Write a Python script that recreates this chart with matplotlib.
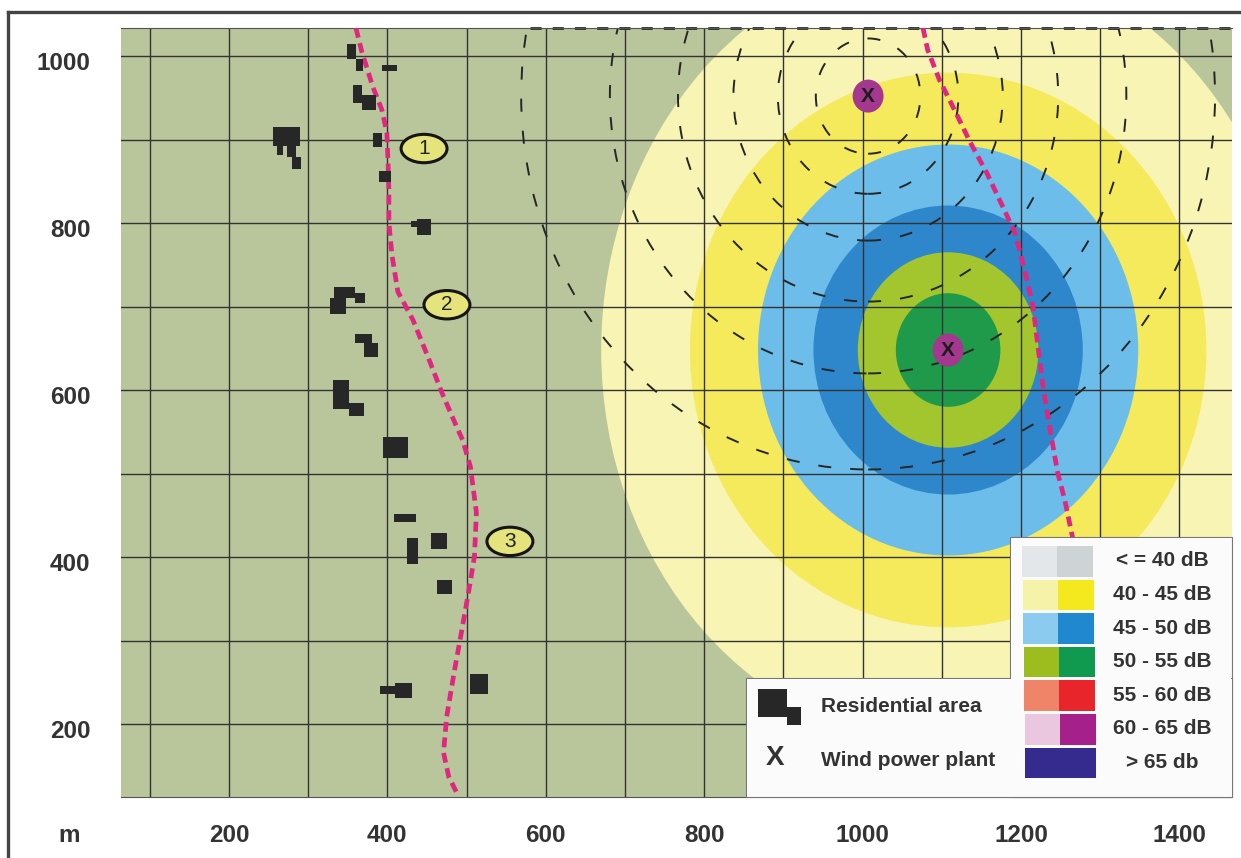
import matplotlib

matplotlib.use("Agg")
import matplotlib.pyplot as plt
from matplotlib.patches import Ellipse, Rectangle
from matplotlib.lines import Line2D
from matplotlib.transforms import ScaledTranslation

OUTPUT = "out.png"

XLIM = (63.8, 1466.4)
YLIM = (113.5, 1033.5)
GRID_X = list(range(100, 1500, 100))
GRID_Y = list(range(200, 1100, 100))
XTICKS = [200, 400, 600, 800, 1000, 1200, 1400]
YTICKS = [200, 400, 600, 800, 1000]

# noise zones around the big plant, outermost first
ZONE_CENTER = (1108, 648)
ZONE_RX = [438, 326, 240, 170, 114, 66]
ZONE_RY = [474, 332, 246, 173, 117, 68]
ZONE_COLORS = ["#f8f4b4", "#f5e95c", "#6cbde9", "#2f87cb", "#a3c62e", "#1e9a4a"]

# dashed contours around the other plant
CONTOUR_CENTER = (1007, 952)
CONTOUR_RX = [66, 114, 170, 240, 326, 438]
CONTOUR_RY = [69, 117, 173, 246, 332, 447]

PLANTS_X = [1108, 1007]
PLANTS_Y = [648, 952]

ROAD1_X = [360.4, 367.9, 381.8, 393.2, 399.5, 400.8, 402, 402, 405.8, 413.4, 432.3, 451.3,
           468.9, 489.1, 495, 504.9, 512.5, 510, 502.5, 492.6, 485, 475, 471, 477.5, 490]
ROAD1_Y = [1033.5, 1004.8, 962.9, 935.4, 907.9, 875.7, 839.8, 800.3, 762, 717.7, 684.2, 639.9,
           597, 552.7, 540.6, 508.3, 453.3, 400.6, 357.6, 304.9, 265.4, 209.2, 166.1, 137.4, 113.5]
ROAD2_X = [1076.3, 1082.2, 1097.1, 1117.9, 1135.6, 1156.8, 1174.7, 1192.4, 1204.5, 1215.2,
           1222.4, 1228.4, 1237.4, 1246.3, 1255.2, 1265.7]
ROAD2_Y = [1033.5, 1007.2, 971.3, 931.9, 897.2, 860.1, 824.2, 788.3, 744, 699.8,
           644.7, 600.4, 549, 501.2, 468.8, 421]

# houses: left, bottom, width, height in map metres
HOUSE_X = [348.6, 360.4, 392.8, 356.6, 367.6, 255.6, 260.6, 273.2, 279.5, 381.8, 389.4, 429.8, 437.4, 332.6,
           359.1, 327.5, 359.1, 370.5, 331.3, 351.5, 394.2, 408.3, 455, 424.7, 462.6, 504.9, 390.2, 410.1]
HOUSE_Y = [996.1, 982.1, 982.5, 943.8, 935.5, 892.4, 881.6, 879.2, 865, 891.1, 849.3, 795.5, 785.9, 710.5,
           704.5, 691.4, 656.7, 640, 577.7, 569.4, 519.1, 442.5, 410.2, 392.3, 356.4, 236.7, 236.7, 232]
HOUSE_W = [11.7, 8.8, 18.9, 11, 18, 34.1, 7.6, 11.4, 11.4, 11.4, 15.2, 7.6, 17.7, 26.5,
           12.6, 20.2, 21.5, 17.7, 20.2, 18.9, 31.8, 27.8, 20.2, 13.9, 18.9, 22.1, 19.9, 21]
HOUSE_H = [17.9, 14.4, 6.8, 21.5, 17.9, 22.7, 10.8, 13.2, 14.4, 16.8, 13.2, 7.2, 19.1, 13.2,
           12, 19.1, 10.8, 16.8, 34.7, 15.6, 25.1, 9.6, 19.1, 31.1, 16.8, 23.9, 9.6, 17.9]

SITE_LABELS = ["1", "2", "3"]
SITE_X = [446.4, 475.3, 554.8]
SITE_Y = [889.2, 702.2, 418.9]

LEGEND_LABELS = ["< = 40 dB", "40 - 45 dB", "45 - 50 dB", "50 - 55 dB", "55 - 60 dB", "60 - 65 dB", "> 65 db"]
LEGEND_LIGHT = ["#e4e7e9", "#f6f2a8", "#8ccbf0", "#9dbd1f", "#ef8468", "#eac7de", "#352a8e"]
LEGEND_DARK = ["#ced3d6", "#f4e81e", "#1f88cf", "#0f9a50", "#e8252b", "#a5208a", "#352a8e"]

TEXT = "#333333"
FONT = "Liberation Sans"


def draw_map(ax):
    ax.set_facecolor("#b9c59b")
    ax.set_xlim(*XLIM)
    ax.set_ylim(*YLIM)

    for rx, ry, color in zip(ZONE_RX, ZONE_RY, ZONE_COLORS):
        ax.add_patch(Ellipse(ZONE_CENTER, rx * 2, ry * 2, fc=color, ec="none", zorder=1))

    ax.set_xticks(GRID_X, minor=True)
    ax.set_yticks(GRID_Y, minor=True)
    ax.set_xticks(XTICKS)
    ax.set_yticks(YTICKS)
    ax.grid(True, which="both", color="#333333", linewidth=1.0, zorder=1.5)
    ax.tick_params(which="both", length=0)
    ax.tick_params(axis="x", pad=20)
    ax.tick_params(axis="y", pad=22)
    for label in ax.get_xticklabels() + ax.get_yticklabels():
        label.set(fontsize=17.5, fontweight="bold", family=FONT, color=TEXT)
    offset = ScaledTranslation(0, -5 / 100, ax.figure.dpi_scale_trans)
    for label in ax.get_yticklabels():
        label.set_transform(label.get_transform() + offset)

    for rx, ry in zip(CONTOUR_RX, CONTOUR_RY):
        ax.add_patch(Ellipse(CONTOUR_CENTER, rx * 2, ry * 2, fill=False, ec="#262626", lw=1.4,
                             ls=(0, (6.7, 9.8)), zorder=2))
    ax.plot([580, XLIM[1]], [YLIM[1], YLIM[1]], color="#262626", lw=2, ls=(0, (4, 4)), clip_on=False, zorder=2)

    for xs, ys in ((ROAD1_X, ROAD1_Y), (ROAD2_X, ROAD2_Y)):
        ax.plot(xs, ys, color="#e0277f", lw=3.4, ls=(0, (2.1, 1.2)), dash_capstyle="butt", zorder=3)

    for x, y, w, h in zip(HOUSE_X, HOUSE_Y, HOUSE_W, HOUSE_H):
        ax.add_patch(Rectangle((x, y), w, h, fc="#272727", ec="none", zorder=3))

    for x, y in zip(PLANTS_X, PLANTS_Y):
        ax.add_patch(Ellipse((x, y), 39, 39.5, fc="#a4388f", ec="none", zorder=3))
        ax.text(x, y, "X", ha="center", va="center", fontsize=15, fontweight="bold", family=FONT,
                color="#1c1c1c", zorder=4)

    for name, x, y in zip(SITE_LABELS, SITE_X, SITE_Y):
        ax.add_patch(Ellipse((x, y), 58, 34, fc="#e4e37c", ec="#151515", lw=2.2, zorder=3))
        ax.text(x, y, name, ha="center", va="center", fontsize=15, family=FONT, color="#222222", zorder=4)

    for side in ("left", "right"):
        ax.spines[side].set_visible(False)
    for side in ("top", "bottom"):
        ax.spines[side].set_color("#555555")
        ax.spines[side].set_linewidth(0.8)


def draw_legend(fig):
    # overlay in image pixels for the legend boxes and the frame
    over = fig.add_axes([0, 0, 1, 1], zorder=5)
    over.set_xlim(0, 1241)
    over.set_ylim(858, 0)
    over.axis("off")

    over.add_patch(Rectangle((1010, 537), 222, 260, fc="#fbfbfb", ec="#777777", lw=0.8))
    over.add_patch(Rectangle((746, 678), 486, 119, fc="#fbfbfb", ec="#777777", lw=0.8))
    over.add_patch(Rectangle((1011, 538), 220, 258, fc="#fbfbfb", ec="none"))
    over.add_patch(Rectangle((747, 679), 485, 117, fc="#fbfbfb", ec="none"))

    for i, (name, light, dark) in enumerate(zip(LEGEND_LABELS, LEGEND_LIGHT, LEGEND_DARK)):
        top = 546 + i * 33.6
        over.add_patch(Rectangle((1022 + i * 0.5, top), 35, 30.5, fc=light, ec="none"))
        over.add_patch(Rectangle((1057 + i * 0.5, top), 36, 30.5, fc=dark, ec="none"))
        over.text(1162, top + 15, name, ha="center", va="center", fontsize=15, fontweight="bold",
                  family=FONT, color=TEXT)

    over.add_patch(Rectangle((758, 689), 29, 28, fc="#272727", ec="none"))
    over.add_patch(Rectangle((787, 707), 14, 18, fc="#272727", ec="none"))
    over.text(775, 758, "X", ha="center", va="center", fontsize=20, fontweight="bold", family=FONT, color=TEXT)
    over.text(821, 707, "Residential area", va="center", fontsize=15, fontweight="bold", family=FONT, color=TEXT)
    over.text(821, 760, "Wind power plant", va="center", fontsize=15, fontweight="bold", family=FONT, color=TEXT)
    over.text(69, 835, "m", ha="center", va="center", fontsize=17.5, fontweight="bold", family=FONT, color=TEXT)

    over.add_line(Line2D([8, 8], [858, 12], color="#444444", lw=2.4))
    over.add_line(Line2D([8, 1241], [12, 12], color="#444444", lw=2.4))


def main():
    fig = plt.figure(figsize=(12.41, 8.58), dpi=100, facecolor="white")
    ax = fig.add_axes([121 / 1241, 1 - 796.5 / 858, (1232 - 121) / 1241, (796.5 - 28) / 858])
    draw_map(ax)
    draw_legend(fig)
    fig.savefig(OUTPUT, dpi=100)
    print(OUTPUT)


if __name__ == "__main__":
    main()
